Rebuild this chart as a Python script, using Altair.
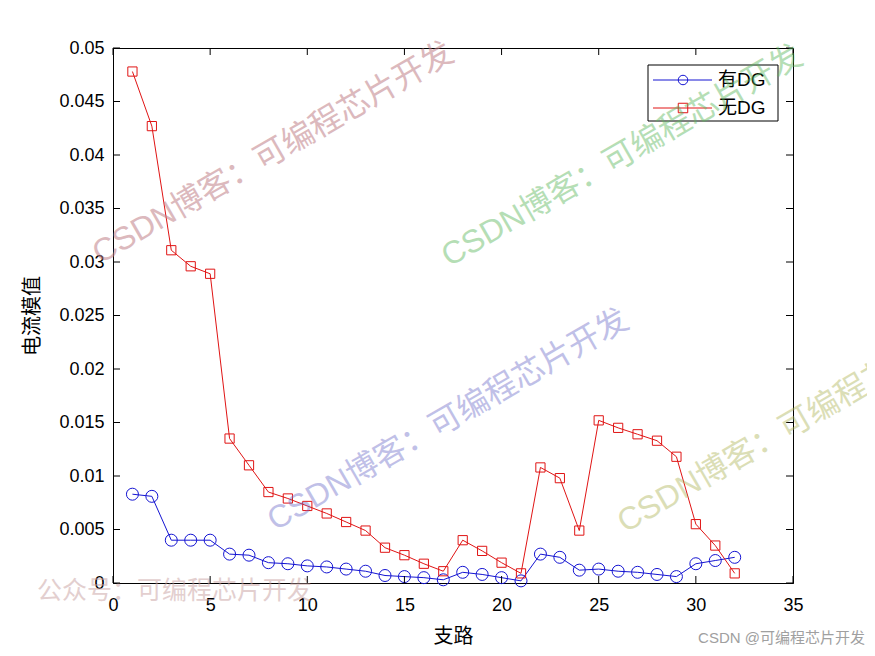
import altair as alt
import pandas as pd

# ---- data ----
branches = [1, 2, 3, 4, 5, 6, 7, 8, 9, 10, 11, 12, 13, 14, 15, 16,
            17, 18, 19, 20, 21, 22, 23, 24, 25, 26, 27, 28, 29, 30, 31, 32]
with_dg = [0.0083, 0.0081, 0.0040, 0.0040, 0.0040, 0.0027, 0.0026, 0.0019,
           0.0018, 0.0016, 0.0015, 0.0013, 0.0011, 0.0007, 0.0006, 0.0005,
           0.0003, 0.0010, 0.0008, 0.0005, 0.0002, 0.0027, 0.0024, 0.0012,
           0.0013, 0.0011, 0.0010, 0.0008, 0.0006, 0.0018, 0.0021, 0.0024]
without_dg = [0.0478, 0.0427, 0.0311, 0.0296, 0.0289, 0.0135, 0.0110, 0.0085,
              0.0079, 0.0072, 0.0065, 0.0057, 0.0049, 0.0033, 0.0026, 0.0018,
              0.0011, 0.0040, 0.0030, 0.0019, 0.0009, 0.0108, 0.0098, 0.0049,
              0.0152, 0.0145, 0.0139, 0.0133, 0.0118, 0.0055, 0.0035, 0.0009]
series_names = ["有DG", "无DG"]
series_shapes = ["circle", "square"]
x_ticks = [0, 5, 10, 15, 20, 25, 30, 35]
y_ticks = [0, 0.005, 0.01, 0.015, 0.02, 0.025, 0.03, 0.035, 0.04, 0.045, 0.05]

BLUE = "#1414d2"
RED = "#e01414"
W, H = 680, 535
LATIN = "Liberation Sans, Arial, Noto Sans CJK SC"
CJK = "Noto Sans CJK SC"

df_blue = pd.DataFrame({"x": branches, "y": with_dg, "s": series_names[0]})
df_red = pd.DataFrame({"x": branches, "y": without_dg, "s": series_names[1]})
df_leg = pd.DataFrame({"s": series_names})
df_xt = pd.DataFrame({"x": x_ticks})
df_yt = pd.DataFrame({"y": y_ticks})

xscale = alt.Scale(domain=[0, 35], nice=False, zero=False)
yscale = alt.Scale(domain=[0, 0.05], nice=False, zero=False)
xaxis = alt.Axis(values=x_ticks, title="支路", grid=False, ticks=False,
                 labelFlush=False, labelOverlap=False,
                 domainColor="black", labelColor="black", labelFont=LATIN,
                 labelFontSize=18, labelPadding=13, titleFont=CJK,
                 titleFontSize=20, titleFontWeight="normal", titleColor="black",
                 titlePadding=12)
yaxis = alt.Axis(values=y_ticks, format="~f", title="电流模值", grid=False,
                 ticks=False, labelFlush=False, labelOverlap=False,
                 domainColor="black", labelColor="black",
                 labelFont=LATIN, labelFontSize=18, labelPadding=9,
                 titleFont=CJK, titleFontSize=20, titleFontWeight="normal",
                 titleColor="black", titlePadding=16)
X = alt.X("x:Q", scale=xscale, axis=xaxis)
Y = alt.Y("y:Q", scale=yscale, axis=yaxis)

one = alt.Data(values=[{}])


def wm(text, x, y, color, opacity, size, angle=0, align="center"):
    return alt.Chart(one).mark_text(
        text=text, font=LATIN, fontSize=size, color=color, opacity=opacity,
        angle=angle, align=align, baseline="middle").encode(
        x=alt.value(x), y=alt.value(y))


line_b = alt.Chart(df_blue).mark_line(color=BLUE, strokeWidth=1).encode(x=X, y=Y)
line_r = alt.Chart(df_red).mark_line(color=RED, strokeWidth=1).encode(x=X, y=Y)
pts_b = alt.Chart(df_blue).mark_point(shape="circle", filled=False, size=144,
                                      color=BLUE, strokeWidth=1, opacity=1).encode(x=X, y=Y)
pts_r = alt.Chart(df_red).mark_point(shape="square", filled=False, size=85,
                                     color=RED, strokeWidth=1, opacity=1).encode(x=X, y=Y)

tick_b = alt.Chart(df_xt).mark_rule(color="black", strokeWidth=1).encode(
    x=X, y=alt.value(H), y2=alt.value(H - 7))
tick_t = alt.Chart(df_xt).mark_rule(color="black", strokeWidth=1).encode(
    x=X, y=alt.value(0), y2=alt.value(7))
tick_l = alt.Chart(df_yt).mark_rule(color="black", strokeWidth=1).encode(
    y=Y, x=alt.value(0), x2=alt.value(7))
tick_r = alt.Chart(df_yt).mark_rule(color="black", strokeWidth=1).encode(
    y=Y, x=alt.value(W), x2=alt.value(W - 7))

wm_bottom_left = wm("公众号：可编程芯片开发", -76, 543, "#c8a0a0", 0.5, 25, 0, "left")

data_part = alt.layer(wm_bottom_left, line_b, line_r, pts_b, pts_r,
                      tick_b, tick_t, tick_l, tick_r)

# ---- MATLAB-style legend box (line + marker + label per series) ----
# point scale with default 0.5 padding: rows land at 32 and 60 px
LY = alt.Y("s:N", scale=alt.Scale(domain=series_names, range=[18, 74]), axis=None)
LC = alt.Color("s:N", scale=alt.Scale(domain=series_names, range=[BLUE, RED]),
               legend=None)
leg_box = alt.Chart(one).mark_rect(fill="white", stroke="black", strokeWidth=1).encode(
    x=alt.value(535), x2=alt.value(665), y=alt.value(17), y2=alt.value(73))
leg_line = alt.Chart(df_leg).mark_rule(strokeWidth=1).encode(
    y=LY, color=LC, x=alt.value(540), x2=alt.value(599))
leg_pt = alt.Chart(df_leg).mark_point(filled=False, size=90, strokeWidth=1,
                                      opacity=1).encode(
    y=LY, color=LC, x=alt.value(570),
    shape=alt.Shape("s:N", scale=alt.Scale(domain=series_names, range=series_shapes),
                    legend=None))
leg_txt = alt.Chart(df_leg).mark_text(align="left", baseline="middle", font=LATIN,
                                      fontSize=19, color="black").encode(
    y=LY, x=alt.value(605), text="s:N")
legend_part = alt.layer(leg_box, leg_line, leg_pt, leg_txt)

watermarks = alt.layer(
    wm("CSDN博客：可编程芯片开发", 160, 105, "#c08088", 0.55, 32, 330),
    wm("CSDN博客：可编程芯片开发", 509, 108, "#5cb85c", 0.45, 32, 330),
    wm("CSDN博客：可编程芯片开发", 335, 372, "#6a6ac8", 0.42, 32, 330),
    wm("CSDN博客：可编程芯片开发", 685, 374, "#b0b860", 0.45, 32, 330),
    wm("CSDN @可编程芯片开发", 752, 590, "#a0a0a0", 1, 15, 0, "right"),
)

chart = alt.layer(data_part, legend_part, watermarks).resolve_scale(
    y="independent"
).properties(
    width=W, height=H,
    autosize=alt.AutoSizeParams(type="none"),
    padding={"left": 105, "top": 40, "right": 74, "bottom": 64},
    background="white",
).configure_view(stroke="black", strokeWidth=1)

chart.save("out.html", embed_options={"renderer": "svg", "actions": False})
